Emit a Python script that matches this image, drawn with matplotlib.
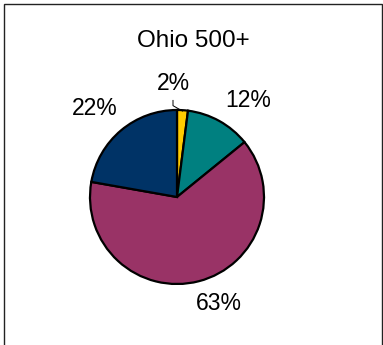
import numpy as np
import matplotlib
matplotlib.use("Agg")
import matplotlib.pyplot as plt
from matplotlib.patches import Rectangle

# -- data --
title = "Ohio 500+"
shares = [2, 12, 63, 22]
colors = ["#FFCC00", "#008080", "#993366", "#003366"]
labels = [f"{v}%" for v in shares]

# label placement: radius (in pie radii) and angular nudge (deg)
label_dist = [1.31, 1.38, 1.32, 1.39]
label_turn = [5.6, -7.2, 6.8, 3.0]

plt.rcParams['font.family'] = ['Liberation Sans', 'DejaVu Sans']

fig = plt.figure(figsize=(3.83, 3.45), dpi=100)
W, H = 383, 345

# -- outer frame --
fig.patches.append(Rectangle((4 / W, -0.1), (382 - 4) / W, 1.1 - 4 / H,
                             transform=fig.transFigure, fill=False,
                             edgecolor="#222222", linewidth=1.0))

fig.text(193 / W, 1 - 41 / H, title, ha="center", va="center", fontsize=17.5)

# -- pie --
cx, cy, r = 177, 197, 87
ax = fig.add_axes([(cx - r) / W, (H - cy - r) / H, 2 * r / W, 2 * r / H])
wedges, _ = ax.pie(shares, colors=colors, startangle=90, counterclock=False,
                   wedgeprops=dict(edgecolor="black", linewidth=1.6))
ax.set_xlim(-1, 1)
ax.set_ylim(-1, 1)
ax.set_aspect("equal")
ax.axis("off")

for w, lab, d, t in zip(wedges, labels, label_dist, label_turn):
    ang = np.deg2rad((w.theta1 + w.theta2) / 2 + t)
    ax.text(d * np.cos(ang), d * np.sin(ang), lab, ha="center", va="center",
            fontsize=16.5, clip_on=False)

# leader line for the thin slice
w0 = wedges[0]
a0 = np.deg2rad((w0.theta1 + w0.theta2) / 2)
ex, ey = np.cos(a0) * 0.99, np.sin(a0) * 0.99
ax.plot([-0.046, -0.046, ex], [1.11, 1.05, ey], color="black", lw=0.7,
        clip_on=False)

fig.savefig("out.png", dpi=100)
